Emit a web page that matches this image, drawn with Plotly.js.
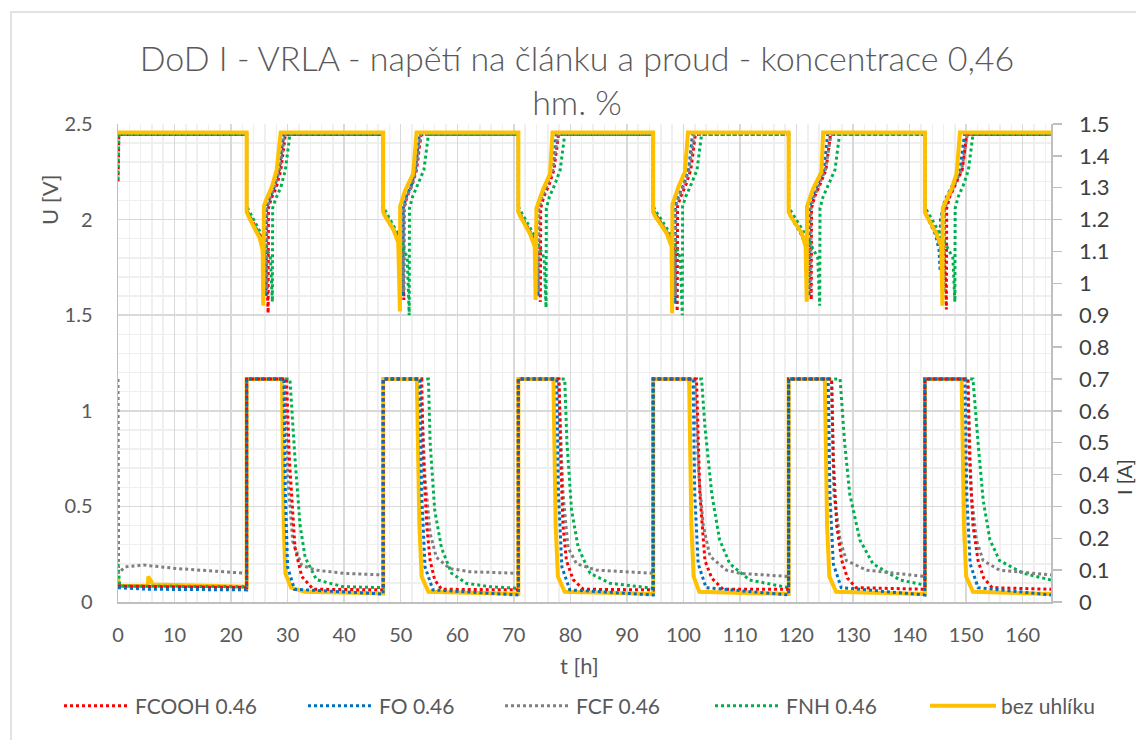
<!DOCTYPE html>
<html>
<head>
<meta charset="utf-8">
<script src="https://cdn.plot.ly/plotly-3.0.1.min.js"></script>
<style>html,body{margin:0;padding:0;background:#fff;}#chart{width:1136px;height:740px;}</style>
</head>
<body>
<div id="chart"></div>
<script>
// ---------- data ----------
const seriesNames = ["FCOOH 0.46", "FO 0.46", "FCF 0.46", "FNH 0.46", "bez uhlíku"];

// cell voltage U [V]
const tU_FCOOH = [0, 0.15, 22.75, 22.75, 23.1, 25.2, 26.2, 26.55, 26.6, 27.1, 28.0, 28.8, 29.6,
  46.9, 46.9, 47.2, 49.2, 50.2, 50.55, 50.6, 51.1, 52.0, 52.8, 53.6,
  70.8, 70.8, 71.1, 73.2, 74.35, 74.7, 74.75, 75.3, 76.2, 77.1, 77.9,
  94.65, 94.65, 95.0, 97.4, 98.55, 98.9, 98.95, 99.5, 100.4, 101.3, 102.1,
  118.6, 118.6, 118.9, 121.2, 122.25, 122.6, 122.65, 123.2, 124.1, 125.2, 126.0,
  142.7, 142.7, 143.0, 145.1, 146.15, 146.5, 146.55, 147.1, 148.0, 149.3, 150.1, 165];
const U_FCOOH = [2.20, 2.445, 2.445, 2.05, 2.03, 1.91, 1.82, 1.51, 2.06, 2.11, 2.17, 2.26, 2.445,
  2.445, 2.05, 2.03, 1.93, 1.84, 1.58, 2.06, 2.12, 2.18, 2.26, 2.445,
  2.445, 2.05, 2.03, 1.92, 1.83, 1.57, 2.06, 2.12, 2.18, 2.26, 2.445,
  2.445, 2.05, 2.03, 1.92, 1.83, 1.52, 2.07, 2.12, 2.18, 2.26, 2.445,
  2.445, 2.05, 2.03, 1.92, 1.83, 1.58, 2.06, 2.12, 2.18, 2.26, 2.445,
  2.445, 2.05, 2.03, 1.92, 1.83, 1.53, 2.06, 2.12, 2.18, 2.26, 2.445, 2.445];

const tU_FO = [0, 22.75, 22.75, 23.05, 25.1, 25.9, 26.2, 26.25, 26.8, 27.6, 28.5, 29.3,
  46.9, 46.9, 47.2, 49.0, 50.05, 50.4, 50.45, 51.0, 51.9, 52.6, 53.3,
  70.8, 70.8, 71.1, 73.0, 73.95, 74.3, 74.35, 74.9, 75.8, 76.8, 77.5,
  94.65, 94.65, 94.95, 97.2, 98.15, 98.5, 98.55, 99.1, 100.0, 100.9, 101.6,
  118.6, 118.6, 118.9, 120.9, 121.85, 122.2, 122.25, 122.8, 123.7, 124.8, 125.5,
  142.7, 142.7, 143.0, 144.6, 145.2, 145.4, 145.45, 146.2, 147.4, 148.9, 149.7, 165];
const U_FO = [2.445, 2.445, 2.04, 2.02, 1.90, 1.82, 1.60, 2.06, 2.11, 2.17, 2.26, 2.445,
  2.445, 2.04, 2.02, 1.93, 1.84, 1.60, 2.06, 2.12, 2.18, 2.26, 2.445,
  2.445, 2.04, 2.02, 1.92, 1.84, 1.60, 2.06, 2.12, 2.18, 2.26, 2.445,
  2.445, 2.04, 2.02, 1.92, 1.83, 1.56, 2.07, 2.12, 2.18, 2.26, 2.445,
  2.445, 2.04, 2.02, 1.92, 1.84, 1.60, 2.06, 2.12, 2.18, 2.26, 2.445,
  2.445, 2.04, 2.02, 1.92, 1.84, 1.73, 2.00, 2.10, 2.17, 2.26, 2.445, 2.445];

const tU_FCF = [0, 22.75, 22.75, 23.05, 25.1, 25.95, 26.3, 26.35, 26.9, 27.7, 28.6, 29.45,
  46.9, 46.9, 47.2, 49.1, 50.15, 50.5, 50.55, 51.1, 52.0, 52.7, 53.5,
  70.8, 70.8, 71.1, 73.0, 74.05, 74.4, 74.45, 75.0, 75.9, 76.9, 77.8,
  94.65, 94.65, 94.95, 97.2, 98.25, 98.6, 98.65, 99.2, 100.1, 101.0, 101.9,
  118.6, 118.6, 118.9, 121.0, 122.15, 122.5, 122.55, 123.1, 124.0, 125.1, 126.1,
  142.7, 142.7, 143.0, 144.8, 145.75, 146.1, 146.15, 146.8, 147.8, 149.2, 150.2, 165];
const U_FCF = [2.445, 2.445, 2.04, 2.02, 1.90, 1.82, 1.62, 2.06, 2.11, 2.17, 2.26, 2.445,
  2.445, 2.04, 2.02, 1.93, 1.84, 1.62, 2.06, 2.12, 2.18, 2.26, 2.445,
  2.445, 2.04, 2.02, 1.92, 1.84, 1.62, 2.06, 2.12, 2.18, 2.26, 2.445,
  2.445, 2.04, 2.02, 1.92, 1.83, 1.60, 2.07, 2.12, 2.18, 2.26, 2.445,
  2.445, 2.04, 2.02, 1.92, 1.84, 1.62, 2.06, 2.12, 2.18, 2.26, 2.445,
  2.445, 2.04, 2.02, 1.92, 1.82, 1.62, 2.05, 2.11, 2.17, 2.26, 2.445, 2.445];

const tU_FNH = [0, 0.15, 22.75, 22.75, 23.1, 25.4, 26.95, 27.3, 27.35, 27.9, 28.8, 29.6, 30.4,
  46.9, 46.9, 47.2, 49.6, 51.15, 51.5, 51.55, 52.1, 53.0, 54.1, 54.9,
  70.8, 70.8, 71.1, 73.6, 75.35, 75.7, 75.75, 76.3, 77.2, 78.2, 79.0,
  94.65, 94.65, 95.0, 97.8, 99.45, 99.8, 99.85, 100.4, 101.3, 102.4, 103.2,
  118.6, 118.6, 118.9, 121.6, 123.75, 124.1, 124.15, 124.7, 125.6, 126.8, 127.6,
  142.7, 142.7, 143.0, 145.5, 147.65, 148.0, 148.05, 148.6, 149.5, 150.4, 151.2, 165];
const U_FNH = [2.21, 2.445, 2.445, 2.07, 2.05, 1.92, 1.80, 1.57, 2.06, 2.11, 2.17, 2.26, 2.445,
  2.445, 2.07, 2.05, 1.92, 1.80, 1.50, 2.06, 2.12, 2.18, 2.26, 2.445,
  2.445, 2.07, 2.05, 1.92, 1.80, 1.54, 2.06, 2.12, 2.18, 2.26, 2.445,
  2.445, 2.07, 2.05, 1.92, 1.80, 1.50, 2.07, 2.12, 2.18, 2.26, 2.445,
  2.445, 2.07, 2.05, 1.92, 1.80, 1.55, 2.06, 2.12, 2.18, 2.26, 2.445,
  2.445, 2.07, 2.05, 1.92, 1.80, 1.57, 2.06, 2.12, 2.18, 2.26, 2.445, 2.445];

const tU_BEZ = [0, 22.75, 22.75, 23.05, 25.1, 25.58, 25.69, 25.8, 26.3, 27.2, 28.06, 28.77,
  46.9, 46.9, 47.2, 48.67, 49.56, 49.86, 49.9, 50.74, 52.2, 52.8,
  70.8, 70.8, 71.1, 72.8, 73.7, 73.85, 74.0, 75.2, 76.4, 76.85,
  94.65, 94.65, 94.95, 97.0, 97.9, 98.0, 98.05, 99.1, 100.25, 100.8,
  118.6, 118.6, 118.9, 120.9, 121.6, 121.8, 121.85, 122.9, 124.4, 124.7,
  142.7, 142.7, 143.0, 144.7, 145.6, 145.8, 145.85, 147.4, 148.3, 148.9, 165];
const U_BEZ = [2.455, 2.455, 2.04, 2.02, 1.90, 1.84, 1.55, 2.07, 2.11, 2.17, 2.26, 2.455,
  2.455, 2.04, 2.02, 1.95, 1.88, 1.52, 2.07, 2.15, 2.24, 2.455,
  2.455, 2.04, 2.02, 1.93, 1.86, 1.58, 2.06, 2.16, 2.24, 2.455,
  2.455, 2.04, 2.02, 1.93, 1.86, 1.51, 2.08, 2.17, 2.25, 2.455,
  2.455, 2.04, 2.02, 1.93, 1.86, 1.57, 2.07, 2.16, 2.25, 2.455,
  2.455, 2.04, 2.02, 1.93, 1.86, 1.55, 2.06, 2.16, 2.24, 2.455, 2.455];

// current I [A]
const tI_FCOOH = [0, 22.75, 22.75, 29.8, 30.3, 30.8, 31.3, 32.5, 34.5, 46.9,
  46.9, 53.7, 54.0, 54.6, 55.2, 56.0, 57.2, 70.8,
  70.8, 78.0, 78.3, 78.7, 79.3, 80.5, 82.3, 94.65,
  94.65, 102.3, 102.6, 102.9, 103.8, 105.0, 107.0, 118.6,
  118.6, 126.2, 126.5, 127.1, 128.0, 129.0, 130.5, 142.7,
  142.7, 150.3, 150.6, 151.2, 152.1, 153.1, 154.6, 165];
const I_FCOOH = [0.05, 0.045, 0.70, 0.70, 0.45, 0.30, 0.17, 0.08, 0.04, 0.038,
  0.70, 0.70, 0.45, 0.24, 0.13, 0.07, 0.04, 0.038,
  0.70, 0.70, 0.45, 0.24, 0.13, 0.07, 0.04, 0.038,
  0.70, 0.70, 0.50, 0.34, 0.13, 0.075, 0.04, 0.04,
  0.70, 0.70, 0.45, 0.24, 0.13, 0.075, 0.045, 0.04,
  0.70, 0.70, 0.45, 0.24, 0.13, 0.075, 0.045, 0.04];

const tI_FO = [0, 5.3, 22.75, 22.75, 29.35, 29.6, 30.0, 31.2, 46.9,
  46.9, 53.4, 53.7, 54.3, 55.7, 70.8,
  70.8, 77.6, 77.9, 78.5, 79.9, 94.65,
  94.65, 101.7, 102.0, 102.6, 104.0, 118.6,
  118.6, 125.6, 125.9, 126.5, 127.9, 142.7,
  142.7, 149.8, 150.1, 150.7, 152.1, 165];
const I_FO = [0.045, 0.04, 0.038, 0.70, 0.70, 0.34, 0.11, 0.04, 0.025,
  0.70, 0.70, 0.34, 0.11, 0.038, 0.022,
  0.70, 0.70, 0.34, 0.11, 0.038, 0.022,
  0.70, 0.70, 0.34, 0.12, 0.045, 0.022,
  0.70, 0.70, 0.34, 0.12, 0.045, 0.022,
  0.70, 0.70, 0.34, 0.12, 0.045, 0.022];

const tI_FCF = [0, 0.1, 1.2, 4.5, 10.4, 16.3, 22.75, 22.75, 29.5, 30.0, 30.9, 32.5, 35.0, 40.0, 46.9,
  46.9, 53.5, 54.3, 55.2, 56.3, 58.7, 62.2, 70.8,
  70.8, 77.9, 78.7, 79.6, 81.1, 84.6, 94.65,
  94.65, 102.0, 102.7, 103.5, 104.7, 107.6, 110.0, 118.6,
  118.6, 126.2, 126.6, 127.7, 128.8, 132.4, 142.7,
  142.7, 150.3, 150.9, 151.8, 153.0, 155.9, 165];
const I_FCF = [0.70, 0.09, 0.11, 0.116, 0.105, 0.097, 0.09, 0.70, 0.70, 0.40, 0.19, 0.115, 0.10, 0.09, 0.085,
  0.70, 0.70, 0.39, 0.215, 0.14, 0.105, 0.095, 0.09,
  0.70, 0.70, 0.34, 0.17, 0.12, 0.10, 0.09,
  0.70, 0.70, 0.40, 0.24, 0.143, 0.10, 0.09, 0.08,
  0.70, 0.70, 0.34, 0.195, 0.13, 0.10, 0.08,
  0.70, 0.70, 0.34, 0.195, 0.13, 0.10, 0.085];

const tI_FNH = [0, 0.3, 22.75, 22.75, 30.4, 31.3, 32.2, 33.1, 35.1, 39.8, 46.9,
  46.9, 54.9, 55.2, 56.0, 57.2, 59.0, 61.6, 65.8, 70.8,
  70.8, 79.0, 79.4, 80.2, 81.4, 83.5, 87.0, 94.65,
  94.65, 103.2, 103.8, 105.0, 106.4, 108.2, 111.7, 118.6,
  118.6, 127.7, 128.5, 129.4, 131.2, 133.5, 138.3, 142.7,
  142.7, 151.2, 152.1, 153.0, 154.2, 155.9, 160.1, 165];
const I_FNH = [0.12, 0.05, 0.048, 0.70, 0.70, 0.45, 0.24, 0.14, 0.07, 0.048, 0.045,
  0.70, 0.70, 0.50, 0.29, 0.17, 0.09, 0.059, 0.048, 0.043,
  0.70, 0.70, 0.50, 0.29, 0.17, 0.09, 0.059, 0.043,
  0.70, 0.70, 0.55, 0.34, 0.195, 0.12, 0.069, 0.045,
  0.70, 0.70, 0.50, 0.34, 0.195, 0.12, 0.069, 0.053,
  0.70, 0.70, 0.50, 0.32, 0.195, 0.13, 0.09, 0.069];

const tI_BEZ = [0, 0.2, 5.3, 5.35, 6.2, 22.75, 22.75, 29.0, 29.3, 29.6, 30.6, 33.0, 46.9,
  46.9, 52.85, 53.3, 53.7, 54.9, 70.8,
  70.8, 77.0, 77.4, 77.8, 79.0, 94.65,
  94.65, 101.0, 101.4, 101.8, 102.8, 118.6,
  118.6, 125.0, 125.4, 125.8, 127.0, 142.7,
  142.7, 149.2, 149.6, 150.0, 151.2, 165];
const I_BEZ = [0.075, 0.05, 0.05, 0.08, 0.055, 0.048, 0.70, 0.70, 0.24, 0.09, 0.045, 0.032, 0.027,
  0.70, 0.70, 0.24, 0.08, 0.032, 0.025,
  0.70, 0.70, 0.24, 0.08, 0.032, 0.025,
  0.70, 0.70, 0.24, 0.08, 0.032, 0.025,
  0.70, 0.70, 0.24, 0.08, 0.032, 0.025,
  0.70, 0.70, 0.24, 0.08, 0.032, 0.025];

// ---------- styling ----------
const FONT = "Lato, 'Open Sans', sans-serif";
const TXT = "#595959";
const colors = ["#FF0000", "#0070C0", "#808080", "#00B050", "#FFC000"];
const legendIds = ["legend", "legend2", "legend3", "legend4", "legend5"];
const dotted = {width: 3, dash: "3px,3px"};

const uSets = [[tU_FCOOH, U_FCOOH], [tU_FO, U_FO], [tU_FCF, U_FCF], [tU_FNH, U_FNH], [tU_BEZ, U_BEZ]];
const iSets = [[tI_FCOOH, I_FCOOH], [tI_FO, I_FO], [tI_FCF, I_FCF], [tI_FNH, I_FNH], [tI_BEZ, I_BEZ]];

function lineFor(k) {
  return k === 4 ? {color: colors[k], width: 4} : Object.assign({color: colors[k]}, dotted);
}

const traces = [];
// voltage traces (primary axis), yellow last so it sits on top
[0, 1, 2, 3, 4].forEach(k => {
  traces.push({
    type: "scatter", mode: "lines", name: seriesNames[k],
    x: uSets[k][0], y: uSets[k][1], xaxis: "x", yaxis: "y",
    line: lineFor(k), legend: legendIds[k], legendgroup: "g" + k,
    hoverinfo: "skip"
  });
});
// current traces (secondary axis)
[4, 3, 2, 0, 1].forEach(k => {
  traces.push({
    type: "scatter", mode: "lines", name: seriesNames[k],
    x: iSets[k][0], y: iSets[k][1], xaxis: "x", yaxis: "y2",
    line: lineFor(k), legendgroup: "g" + k, showlegend: false,
    hoverinfo: "skip"
  });
});

// plot area in pixels: left 118, right 1051, top 124, bottom 602
const PL = 118, PR = 1051, PT = 124, PB = 602;
const px2x = p => (p - PL) / (PR - PL);
const px2y = p => (PB - p) / (PB - PT);

function legendAt(xpx) {
  return {
    orientation: "h", x: px2x(xpx), xanchor: "left", y: px2y(706), yanchor: "middle",
    itemwidth: 66, font: {family: FONT, size: 21, color: TXT},
    bgcolor: "rgba(0,0,0,0)", borderwidth: 0, itemclick: false
  };
}

const layout = {
  width: 1136, height: 740,
  margin: {l: PL, r: 1136 - PR, t: PT, b: 740 - PB, pad: 0},
  paper_bgcolor: "#ffffff", plot_bgcolor: "#ffffff",
  font: {family: FONT, color: TXT},
  title: {
    text: "DoD I - VRLA - napětí na článku a proud - koncentrace 0,46<br>hm. %",
    font: {family: FONT, size: 34, color: TXT, weight: 300},
    x: 577 / 1136, xanchor: "center", xref: "container",
    y: 1 - 71 / 740, yanchor: "top", yref: "container"
  },
  showlegend: true,
  legend: legendAt(59), legend2: legendAt(303), legend3: legendAt(500),
  legend4: legendAt(710), legend5: legendAt(925),
  xaxis: {
    range: [0, 165], tick0: 0, dtick: 10, showgrid: true, gridcolor: "#d9d9d9", gridwidth: 1.5,
    minor: {dtick: 2, showgrid: true, gridcolor: "#efefef", gridwidth: 1.5, ticks: ""},
    showline: true, linecolor: "#bfbfbf", linewidth: 1.5, zeroline: false, ticks: "",
    tickfont: {family: FONT, size: 20, color: TXT}, ticklabelstandoff: 14, automargin: false
  },
  yaxis: {
    range: [0, 2.5], tick0: 0, dtick: 0.5, showgrid: true, gridcolor: "#d9d9d9", gridwidth: 1.5,
    minor: {dtick: 0.1, showgrid: true, gridcolor: "#efefef", gridwidth: 1.5, ticks: ""},
    showline: true, linecolor: "#bfbfbf", linewidth: 1.5, zeroline: false, ticks: "",
    tickfont: {family: FONT, size: 20, color: TXT}, ticklabelstandoff: 20, automargin: false
  },
  yaxis2: {
    range: [0, 1.5], tick0: 0, dtick: 0.1, overlaying: "y", side: "right", showgrid: false,
    showline: true, linecolor: "#bfbfbf", linewidth: 1.5, zeroline: false,
    ticks: "outside", ticklen: 9, tickwidth: 1.5, tickcolor: "#bfbfbf",
    tickfont: {family: FONT, size: 22, color: "#404040"}, ticklabelstandoff: 13, automargin: false
  },
  annotations: [
    {text: "U [V]", xref: "paper", yref: "paper", x: px2x(49), y: px2y(200), textangle: -90,
     showarrow: false, xanchor: "center", yanchor: "middle", font: {family: FONT, size: 22, color: TXT}},
    {text: "I [A]", xref: "paper", yref: "paper", x: px2x(1124), y: px2y(477), textangle: -90,
     showarrow: false, xanchor: "center", yanchor: "middle", font: {family: FONT, size: 20, color: "#404040"}},
    {text: "t [h]", xref: "paper", yref: "paper", x: px2x(579), y: px2y(665),
     showarrow: false, xanchor: "center", yanchor: "middle", font: {family: FONT, size: 22, color: TXT}}
  ],
  shapes: [
    {type: "rect", xref: "paper", yref: "paper", x0: px2x(11), x1: px2x(1160), y0: px2y(760), y1: px2y(12),
     line: {color: "#d9d9d9", width: 1.5}, fillcolor: "rgba(0,0,0,0)", layer: "below"}
  ]
};

Plotly.newPlot("chart", traces, layout, {staticPlot: true, displayModeBar: false});
</script>
</body>
</html>
